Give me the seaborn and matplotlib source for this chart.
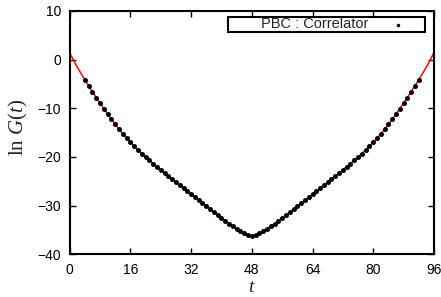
import numpy as np
import pandas as pd
import matplotlib
matplotlib.use("Agg")
import matplotlib.pyplot as plt
import seaborn as sns
from matplotlib.patches import Rectangle

# fit curve (red line), t = 0..96
fit_t = list(range(0, 97))
fit_lnG = [1.45, -0.1, -1.55, -2.85, -4.1, -5.35, -6.6, -7.8, -8.95, -10.05,
           -11.15, -12.25, -13.3, -14.3, -15.25, -16.15, -17.0, -17.8, -18.55, -19.3,
           -20.0, -20.7, -21.35, -22.0, -22.65, -23.3, -23.95, -24.6, -25.2, -25.8,
           -26.4, -27.05, -27.65, -28.3, -28.9, -29.5, -30.1, -30.7, -31.35, -31.95,
           -32.55, -33.15, -33.7, -34.25, -34.8, -35.3, -35.7, -36.0, -36.2,
           -36.0, -35.7, -35.3, -34.8, -34.25, -33.7, -33.15, -32.55, -31.95, -31.35,
           -30.7, -30.1, -29.5, -28.9, -28.3, -27.65, -27.05, -26.4, -25.8, -25.2,
           -24.6, -23.95, -23.3, -22.65, -22.0, -21.35, -20.7, -20.0, -19.3, -18.55,
           -17.8, -17.0, -16.15, -15.25, -14.3, -13.3, -12.25, -11.15, -10.05, -8.95,
           -7.8, -6.6, -5.35, -4.1, -2.85, -1.55, -0.1, 1.45]

# correlator data points (black dots), t = 4..92
corr_t = list(range(4, 93))
corr_lnG = [-4.1, -5.35, -6.6, -7.8, -8.95, -10.05, -11.15, -12.25, -13.3, -14.3,
            -15.25, -16.15, -17.0, -17.8, -18.55, -19.3, -20.0, -20.7, -21.35, -22.0,
            -22.65, -23.3, -23.95, -24.6, -25.2, -25.8, -26.4, -27.05, -27.65, -28.3,
            -28.9, -29.5, -30.1, -30.7, -31.35, -31.95, -32.55, -33.15, -33.7, -34.25,
            -34.8, -35.3, -35.7, -36.0, -36.2, -36.0, -35.7, -35.3, -34.8, -34.25,
            -33.7, -33.15, -32.55, -31.95, -31.35, -30.7, -30.1, -29.5, -28.9, -28.3,
            -27.65, -27.05, -26.4, -25.8, -25.2, -24.6, -23.95, -23.3, -22.65, -22.0,
            -21.35, -20.7, -20.0, -19.3, -18.55, -17.8, -17.0, -16.15, -15.25, -14.3,
            -13.3, -12.25, -11.15, -10.05, -8.95, -7.8, -6.6, -5.35, -4.1]

x_ticks = [0, 16, 32, 48, 64, 80, 96]
y_ticks = [-40, -30, -20, -10, 0, 10]
legend_label = "PBC : Correlator"

sns.set_style("ticks")
plt.rcParams['font.family'] = ['Liberation Sans', 'DejaVu Sans']
plt.rcParams['mathtext.fontset'] = 'custom'
plt.rcParams['mathtext.rm'] = 'Liberation Serif'
plt.rcParams['mathtext.it'] = 'Liberation Serif:italic'

fig = plt.figure(figsize=(4.41, 2.97), dpi=100)
ax = fig.add_axes([0.158, 0.144, 0.826, 0.819])

sns.lineplot(x=fit_t, y=fit_lnG, color="red", linewidth=1.1, ax=ax)
sns.scatterplot(x=corr_t, y=corr_lnG, color="black", s=13, linewidth=0,
                label=legend_label, ax=ax, zorder=3)

ax.set_xlim(0, 96)
ax.set_ylim(-40, 10)
ax.set_xticks(x_ticks)
ax.set_yticks(y_ticks)
ax.tick_params(direction="in", top=True, right=True, length=4, width=1,
               labelsize=10, colors="black", pad=6)
for sp in ax.spines.values():
    sp.set_linewidth(1.5)
    sp.set_color("black")

ax.set_xlabel(r"$t$", fontsize=14)
ax.set_ylabel(r"$\mathrm{ln}\ G(t)$", fontsize=15)
ax.xaxis.set_label_coords(0.5, -0.1)
ax.yaxis.set_label_coords(-0.11, 0.52)

# legend: entry without frame, plus a box drawn around it
ax.legend(loc="center", bbox_to_anchor=(0.723, 0.9445), frameon=False,
          markerfirst=False, fontsize=10.5, handlelength=1.0, handletextpad=1.5,
          borderpad=0, markerscale=0.7)
ax.add_patch(Rectangle((0.435, 0.914), 0.54, 0.061, transform=ax.transAxes,
                       fill=False, edgecolor="black", linewidth=1.5, zorder=5))

fig.savefig("out.png", dpi=100)
